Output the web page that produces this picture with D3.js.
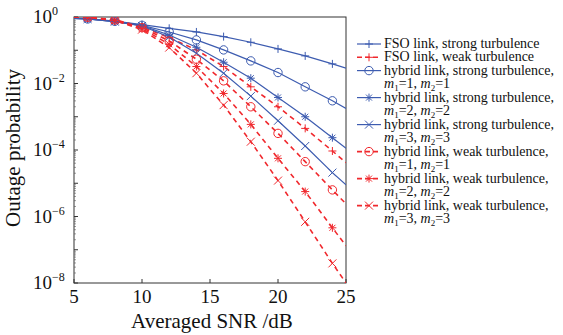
<!DOCTYPE html>
<html lang="en">

<head>
    <meta charset="UTF-8">
    <title>Outage probability vs SNR</title>
    <script src="https://cdn.jsdelivr.net/npm/d3@7"></script>
    <style>
        * {
            margin: 0;
            padding: 0;
        }

        body {
            background: #fff;
        }

        text {
            font-family: "Liberation Serif", "DejaVu Serif", serif;
            fill: #111;
        }
    </style>
</head>

<body>
    <script>
        // SNR points (dB); markers sit on the even ones 6..24
        const snr = [5, 6, 8, 10, 12, 14, 16, 18, 20, 22, 24, 25];

        // log10 of outage probability
        const fsoStrong = [-0.04, -0.05, -0.12, -0.23, -0.34, -0.45, -0.59, -0.76, -0.96, -1.17, -1.41, -1.54];
        const fsoWeak = [0, -0.01, -0.08, -0.30, -0.62, -0.99, -1.49, -2.10, -2.70, -3.35, -4.03, -4.38];
        const hybStrong1 = [-0.04, -0.06, -0.13, -0.25, -0.45, -0.69, -0.99, -1.32, -1.67, -2.10, -2.52, -2.75];
        const hybStrong2 = [-0.04, -0.06, -0.14, -0.26, -0.54, -0.91, -1.36, -1.84, -2.42, -3.00, -3.63, -3.95];
        const hybStrong3 = [-0.04, -0.06, -0.14, -0.27, -0.60, -1.09, -1.69, -2.38, -3.12, -3.88, -4.68, -5.05];
        const hybWeak1 = [0, -0.01, -0.09, -0.32, -0.72, -1.27, -1.92, -2.70, -3.50, -4.35, -5.20, -5.62];
        const hybWeak2 = [0, -0.01, -0.10, -0.35, -0.82, -1.49, -2.30, -3.23, -4.25, -5.25, -6.34, -6.88];
        const hybWeak3 = [0, -0.01, -0.10, -0.38, -0.92, -1.69, -2.65, -3.75, -4.92, -6.16, -7.41, -8.00];

        const xTicks = [5, 10, 15, 20, 25];
        const yTickExp = [0, -2, -4, -6, -8];

        const blue = "#3d5cb0";
        const red = "#f0282d";

        const series = [
            { name: "FSO link, strong turbulence", vals: fsoStrong, color: blue, dash: null, marker: "plus" },
            { name: "FSO link, weak turbulence", vals: fsoWeak, color: red, dash: "5,4", marker: "plus" },
            { name: "hybrid link, strong turbulence,", m: [1, 1], vals: hybStrong1, color: blue, dash: null, marker: "circle" },
            { name: "hybrid link, strong turbulence,", m: [2, 2], vals: hybStrong2, color: blue, dash: null, marker: "star" },
            { name: "hybrid link, strong turbulence,", m: [3, 3], vals: hybStrong3, color: blue, dash: null, marker: "cross" },
            { name: "hybrid link, weak turbulence,", m: [1, 1], vals: hybWeak1, color: red, dash: "5,4", marker: "circle" },
            { name: "hybrid link, weak turbulence,", m: [2, 2], vals: hybWeak2, color: red, dash: "5,4", marker: "star" },
            { name: "hybrid link, weak turbulence,", m: [3, 3], vals: hybWeak3, color: red, dash: "5,4", marker: "cross" }
        ];

        const width = 563, height = 335;
        const m = { left: 74, top: 17, right: 346, bottom: 283 };

        const svg = d3.select("body").append("svg")
            .attr("width", width).attr("height", height);

        const x = d3.scaleLinear().domain([5, 25]).range([m.left, m.right]);
        const y = d3.scaleLog().domain([1e-8, 1]).range([m.bottom, m.top]);

        svg.append("clipPath").attr("id", "clip")
            .append("rect")
            .attr("x", m.left).attr("y", m.top)
            .attr("width", m.right - m.left).attr("height", m.bottom - m.top);

        // frame
        svg.append("rect")
            .attr("x", m.left).attr("y", m.top)
            .attr("width", m.right - m.left).attr("height", m.bottom - m.top)
            .attr("fill", "none").attr("stroke", "#333").attr("stroke-width", 1);

        // x ticks (inward)
        const xAxis = svg.append("g");
        xAxis.selectAll("line")
            .data(xTicks)
            .join("line")
            .attr("x1", d => x(d)).attr("x2", d => x(d))
            .attr("y1", m.bottom).attr("y2", m.bottom - 4)
            .attr("stroke", "#333");
        xAxis.selectAll("text")
            .data(xTicks)
            .join("text")
            .attr("x", d => x(d)).attr("y", m.bottom + 20)
            .attr("text-anchor", "middle")
            .attr("font-size", 19)
            .text(d => d);

        // y ticks: major every decade, minor 2..9
        const minor = [];
        for (let e = -8; e < 0; e++) {
            for (let k = 2; k <= 9; k++) minor.push(k * Math.pow(10, e));
        }
        const yAxis = svg.append("g");
        yAxis.selectAll("line.minor")
            .data(minor)
            .join("line")
            .attr("class", "minor")
            .attr("x1", m.left).attr("x2", m.left + 2)
            .attr("y1", d => y(d)).attr("y2", d => y(d))
            .attr("stroke", "#555").attr("stroke-width", 0.6);
        yAxis.selectAll("line.major")
            .data(d3.range(-8, 1))
            .join("line")
            .attr("class", "major")
            .attr("x1", m.left).attr("x2", m.left + 4)
            .attr("y1", d => y(Math.pow(10, d))).attr("y2", d => y(Math.pow(10, d)))
            .attr("stroke", "#333");
        const yLab = yAxis.selectAll("text")
            .data(yTickExp)
            .join("text")
            .attr("x", 33).attr("y", d => y(Math.pow(10, d)) + 6)
            .attr("font-size", 19);
        yLab.append("tspan").text("10");
        yLab.append("tspan")
            .attr("dy", -8).attr("font-size", 12)
            .text(d => d === 0 ? "0" : "\u2212" + (-d));

        // axis titles
        svg.append("text")
            .attr("x", 212).attr("y", 328)
            .attr("text-anchor", "middle")
            .attr("font-size", 21)
            .text("Averaged SNR /dB");
        svg.append("text")
            .attr("transform", `translate(20,${(m.top + m.bottom) / 2 - 2}) rotate(-90)`)
            .attr("text-anchor", "middle")
            .attr("font-size", 21)
            .text("Outage probability");

        // marker shapes
        function drawMarker(g, type, color, cx, cy) {
            const s = 4;
            if (type === "plus" || type === "star") {
                g.append("path")
                    .attr("d", `M${cx - s},${cy}H${cx + s}M${cx},${cy - s}V${cy + s}`)
                    .attr("stroke", color).attr("fill", "none");
            }
            if (type === "cross" || type === "star") {
                const c = type === "star" ? 3 : s;
                g.append("path")
                    .attr("d", `M${cx - c},${cy - c}L${cx + c},${cy + c}M${cx - c},${cy + c}L${cx + c},${cy - c}`)
                    .attr("stroke", color).attr("fill", "none");
            }
            if (type === "circle") {
                g.append("circle")
                    .attr("cx", cx).attr("cy", cy).attr("r", 4.2)
                    .attr("stroke", color).attr("fill", "none");
            }
        }

        const line = d3.line()
            .x((d, i) => x(snr[i]))
            .y(d => y(Math.pow(10, d)));

        const plot = svg.append("g").attr("clip-path", "url(#clip)");
        series.forEach(s => {
            plot.append("path")
                .datum(s.vals)
                .attr("d", line)
                .attr("fill", "none")
                .attr("stroke", s.color)
                .attr("stroke-width", s.dash ? 1.6 : 1.2)
                .attr("stroke-dasharray", s.dash);
        });
        series.forEach(s => {
            const g = plot.append("g");
            s.vals.forEach((v, i) => {
                const t = snr[i];
                if (t % 2 === 0 && t >= 6 && t <= 24) {
                    drawMarker(g, s.marker, s.color, x(t), y(Math.pow(10, v)));
                }
            });
        });

        // legend
        const leg = svg.append("g");
        let ly = 44;
        series.forEach(s => {
            const row = leg.append("g");
            row.append("line")
                .attr("x1", 357).attr("x2", 381)
                .attr("y1", ly).attr("y2", ly)
                .attr("stroke", s.color)
                .attr("stroke-width", s.dash ? 1.6 : 1.2)
                .attr("stroke-dasharray", s.dash ? "5,3" : null);
            drawMarker(row, s.marker, s.color, 369, ly);
            row.append("text")
                .attr("x", 384).attr("y", ly + 4)
                .attr("font-size", 14)
                .text(s.name);
            if (s.m) {
                const t = row.append("text")
                    .attr("x", 384).attr("y", ly + 17.5)
                    .attr("font-size", 14);
                t.append("tspan").attr("font-style", "italic").text("m");
                t.append("tspan").attr("dy", 3).attr("font-size", 9).text("1");
                t.append("tspan").attr("dy", -3).text("=" + s.m[0] + ", ");
                t.append("tspan").attr("font-style", "italic").text("m");
                t.append("tspan").attr("dy", 3).attr("font-size", 9).text("2");
                t.append("tspan").attr("dy", -3).text("=" + s.m[1]);
                ly += 27;
            } else {
                ly += 13.3;
            }
        });
    </script>
</body>

</html>
